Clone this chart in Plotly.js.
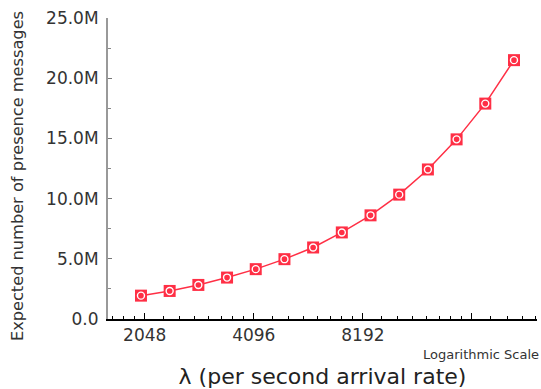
<!DOCTYPE html>
<html>
<head>
<meta charset="utf-8">
<script src="https://cdn.plot.ly/plotly-3.0.1.min.js"></script>
<style>html,body{margin:0;padding:0;background:#fff;}#chart{width:541px;height:389px;}</style>
</head>
<body>
<div id="chart"></div>
<script>
// arrival rate (per second), log2-spaced axis
const lambdaValues = [2000, 2400, 2880, 3456, 4147, 4977, 5972, 7166, 8600, 10320, 12383, 14860, 17832, 21399];
// expected number of presence messages
const messageValues = [1.94e6, 2.33e6, 2.83e6, 3.44e6, 4.14e6, 4.97e6, 5.94e6, 7.19e6, 8.61e6, 10.33e6, 12.42e6, 14.92e6, 17.89e6, 21.5e6];

const xTickVals = [2048, 4096, 8192, 16384];
const xTickText = ['2048', '4096', '8192', ''];
const xMinorVals = [1664, 1792, 1920, 2304, 2560, 2816, 3072, 3328, 3584, 3840,
  4608, 5120, 5632, 6144, 6656, 7168, 7680,
  9216, 10240, 11264, 12288, 13312, 14336, 15360,
  18432, 20480, 22528, 24576];
const yTickVals = [0, 5e6, 10e6, 15e6, 20e6, 25e6];
const yTickText = ['0.0', '5.0M', '10.0M', '15.0M', '20.0M', '25.0M'];
const yMinorVals = [2.5e6, 7.5e6, 12.5e6, 17.5e6, 22.5e6];

const red = '#ff2f45';
const font = 'DejaVu Sans, sans-serif';

const traces = [
  {
    x: lambdaValues, y: messageValues, type: 'scatter', mode: 'lines+markers',
    line: {color: red, width: 1.5},
    marker: {symbol: 'square', size: 12, color: red, line: {width: 0}},
    hoverinfo: 'x+y', showlegend: false
  },
  {
    x: lambdaValues, y: messageValues, type: 'scatter', mode: 'markers',
    marker: {symbol: 'circle-open', size: 7, color: '#ffffff', line: {width: 1.4, color: '#ffffff'}},
    hoverinfo: 'skip', showlegend: false
  }
];

const layout = {
  width: 541, height: 389,
  margin: {l: 108, r: 4, t: 18, b: 70},
  paper_bgcolor: '#ffffff', plot_bgcolor: '#ffffff',
  font: {family: font, color: '#333'},
  xaxis: {
    type: 'log',
    range: [Math.log10(1622), Math.log10(24768)],
    tickmode: 'array', tickvals: xTickVals, ticktext: xTickText,
    ticks: 'inside', ticklen: 6, tickwidth: 1, tickcolor: '#000',
    minor: {tickmode: 'array', tickvals: xMinorVals, ticks: 'inside', ticklen: 3, tickwidth: 1, tickcolor: '#000', showgrid: false},
    showline: true, linecolor: '#000', linewidth: 1.5,
    showgrid: false, zeroline: false,
    tickfont: {family: font, size: 17, color: '#333'},
    title: {text: 'λ (per second arrival rate)', font: {family: font, size: 22, color: '#222'}, standoff: 24},
    automargin: false
  },
  yaxis: {
    range: [0, 25e6],
    tickmode: 'array', tickvals: yTickVals, ticktext: yTickText,
    ticks: 'inside', ticklen: 4, tickwidth: 1, tickcolor: '#777',
    minor: {tickmode: 'array', tickvals: yMinorVals, ticks: 'inside', ticklen: 3, tickwidth: 1, tickcolor: '#888', showgrid: false},
    showline: true, linecolor: '#999', linewidth: 2,
    showgrid: false, zeroline: false,
    tickfont: {family: font, size: 17, color: '#333'},
    ticklabelstandoff: 4,
    automargin: false
  },
  annotations: [
    {
      text: 'Expected number of presence messages', xref: 'paper', yref: 'paper',
      x: -0.212, y: 0.475, xanchor: 'center', yanchor: 'middle', textangle: -90, showarrow: false,
      font: {family: font, size: 16.2, color: '#333'}
    },
    {
      text: 'Logarithmic Scale', xref: 'paper', yref: 'paper',
      x: 1.01, y: -0.149, xanchor: 'right', yanchor: 'bottom', showarrow: false,
      font: {family: font, size: 13, color: '#333'}
    }
  ]
};

Plotly.newPlot('chart', traces, layout, {displayModeBar: false, staticPlot: true});
</script>
</body>
</html>
